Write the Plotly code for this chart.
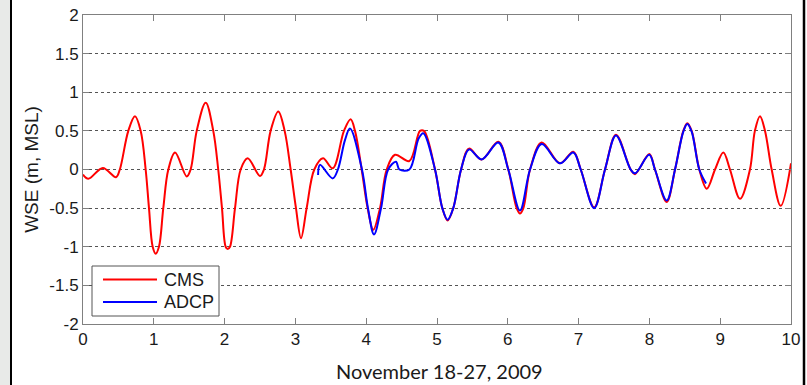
import plotly.graph_objects as go

# Water surface elevation (m, MSL), time in days since 18 Nov 2009
cms_t = [0.000, 0.075, 0.280, 0.466, 0.520, 0.640, 0.734, 0.815, 0.885, 0.932, 0.984, 1.027,
         1.073, 1.134, 1.205, 1.300, 1.465, 1.520, 1.606, 1.733, 1.840, 1.910, 1.963, 2.015,
         2.044, 2.076, 2.147, 2.227, 2.326, 2.500, 2.556, 2.650, 2.758, 2.848, 2.933, 3.008,
         3.079, 3.159, 3.267, 3.390, 3.527, 3.686, 3.780, 3.842, 3.936, 4.020, 4.100, 4.195,
         4.290, 4.407, 4.609, 4.760, 4.816, 4.972, 5.075, 5.150, 5.230, 5.340, 5.452, 5.631,
         5.866, 6.007, 6.125, 6.172, 6.220, 6.314, 6.479, 6.737, 6.925, 7.030, 7.220, 7.373,
         7.528, 7.735, 7.797, 7.998, 8.079, 8.244, 8.362, 8.479, 8.535, 8.597, 8.705, 8.810,
         8.927, 9.044, 9.138, 9.280, 9.420, 9.490, 9.562, 9.633, 9.727, 9.855, 10.000]
cms_wse = [-0.065, -0.12, 0.02, -0.10, 0.00, 0.50, 0.69, 0.50, 0.00, -0.50, -1.00, -1.09,
           -1.00, -0.50, 0.00, 0.22, -0.09, 0.00, 0.50, 0.865, 0.50, 0.00, -0.50, -1.00,
           -1.03, -1.00, -0.50, 0.00, 0.145, -0.085, 0.00, 0.50, 0.75, 0.50, 0.00, -0.50,
           -0.89, -0.50, 0.00, 0.145, 0.015, 0.50, 0.65, 0.50, 0.00, -0.50, -0.78, -0.50,
           0.00, 0.19, 0.11, 0.50, 0.50, 0.00, -0.50, -0.66, -0.50, 0.00, 0.27, 0.13,
           0.36, 0.00, -0.50, -0.57, -0.50, 0.00, 0.35, 0.08, 0.23, 0.00, -0.49, 0.00,
           0.45, 0.00, -0.06, 0.20, 0.00, -0.42, 0.00, 0.50, 0.60, 0.50, 0.00, -0.25,
           0.00, 0.22, 0.00, -0.38, 0.00, 0.50, 0.69, 0.50, 0.00, -0.47, 0.08]

adcp_t = [3.320, 3.347, 3.527, 3.600, 3.700, 3.771, 3.940, 4.025, 4.110, 4.210, 4.310, 4.420,
          4.470, 4.610, 4.740, 4.806, 4.972, 5.075, 5.150, 5.230, 5.340, 5.452, 5.631, 5.866,
          6.007, 6.172, 6.314, 6.479, 6.737, 6.925, 7.030, 7.220, 7.373, 7.528, 7.735, 7.797,
          7.998, 8.079, 8.244, 8.362, 8.479, 8.535, 8.597, 8.705, 8.800]
adcp_wse = [-0.07, 0.06, -0.115, 0.00, 0.38, 0.53, 0.00, -0.50, -0.84, -0.50, 0.00, 0.10,
            0.00, 0.00, 0.40, 0.47, 0.00, -0.50, -0.65, -0.50, 0.00, 0.26, 0.13, 0.35,
            0.00, -0.53, 0.00, 0.33, 0.08, 0.22, 0.00, -0.50, 0.00, 0.44, 0.00, -0.05,
            0.19, 0.00, -0.40, 0.00, 0.49, 0.59, 0.49, 0.00, -0.18]

series_names = ["CMS", "ADCP"]
series_colors = ["#ff0000", "#0000ff"]

x_ticks = list(range(0, 11))
y_ticks = [-2, -1.5, -1, -0.5, 0, 0.5, 1, 1.5, 2]
y_labels = ["-2", "-1.5", "-1", "-0.5", "0", "0.5", "1", "1.5", "2"]

fig = go.Figure()
fig.add_trace(go.Scatter(x=cms_t, y=cms_wse, name=series_names[0], mode="lines",
                         line=dict(color=series_colors[0], width=2, shape="spline", smoothing=1)))
fig.add_trace(go.Scatter(x=adcp_t, y=adcp_wse, name=series_names[1], mode="lines",
                         line=dict(color=series_colors[1], width=2, shape="spline", smoothing=1)))

W, H = 807, 385
L, R, T, B = 83, 16, 15, 61
pw, ph = W - L - R, H - T - B


def px_x(px):
    return (px - L) / pw


def px_y(py):
    return (H - B - py) / ph


axis_common = dict(showline=True, linecolor="#808080", linewidth=1, mirror="ticks",
                   ticks="inside", ticklen=6, tickcolor="#808080", zeroline=False,
                   automargin=False,
                   tickfont=dict(family="Liberation Sans, Arial", size=17, color="#1a1a1a"))

fig.update_xaxes(range=[0, 10], tickvals=x_ticks, showgrid=False, **axis_common)
fig.update_yaxes(range=[-2, 2], tickvals=y_ticks, ticktext=y_labels, showgrid=True,
                 gridcolor="#555555", griddash="dot", gridwidth=1, **axis_common,
                 title=dict(text="WSE (m, MSL)", standoff=5,
                            font=dict(family="Liberation Sans, Arial", size=19, color="#1a1a1a")))

# x-axis caption below the tick labels
fig.add_annotation(xref="paper", yref="paper", x=px_x(439), y=px_y(371),
                   xanchor="center", yanchor="middle", showarrow=False,
                   text="November 18-27, 2009",
                   font=dict(family="Lato, Open Sans", size=20, color="#1a1a1a"))

# page frame: grey strip with a black rule on the left, black rule on the right
fig.add_shape(type="rect", xref="paper", yref="paper", layer="below",
              x0=px_x(0), x1=px_x(10), y0=-1, y1=2,
              fillcolor="#e8eae8", line=dict(width=0))
fig.add_shape(type="line", xref="paper", yref="paper",
              x0=px_x(11), x1=px_x(11), y0=-1, y1=2,
              line=dict(color="black", width=2))
fig.add_shape(type="line", xref="paper", yref="paper",
              x0=px_x(804), x1=px_x(804), y0=-1, y1=2,
              line=dict(color="black", width=2.5))

# legend box in the lower-left corner of the axes
fig.add_shape(type="rect", xref="paper", yref="paper",
              x0=px_x(92), x1=px_x(219), y0=px_y(316), y1=px_y(266),
              fillcolor="white", line=dict(color="#555555", width=1))
for i, (name, color) in enumerate(zip(series_names, series_colors)):
    row_y = px_y(279.5 + 22.5 * i)
    fig.add_shape(type="line", xref="paper", yref="paper",
                  x0=px_x(103), x1=px_x(157), y0=row_y, y1=row_y,
                  line=dict(color=color, width=2))
    fig.add_annotation(xref="paper", yref="paper", x=px_x(162), y=row_y,
                       xanchor="left", yanchor="middle", showarrow=False, text=name,
                       font=dict(family="Liberation Sans, Arial", size=18, color="#1a1a1a"))

fig.update_layout(
    width=W, height=H,
    margin=dict(l=L, r=R, t=T, b=B),
    paper_bgcolor="white", plot_bgcolor="white",
    showlegend=False,
)

fig.write_html("out.html")
